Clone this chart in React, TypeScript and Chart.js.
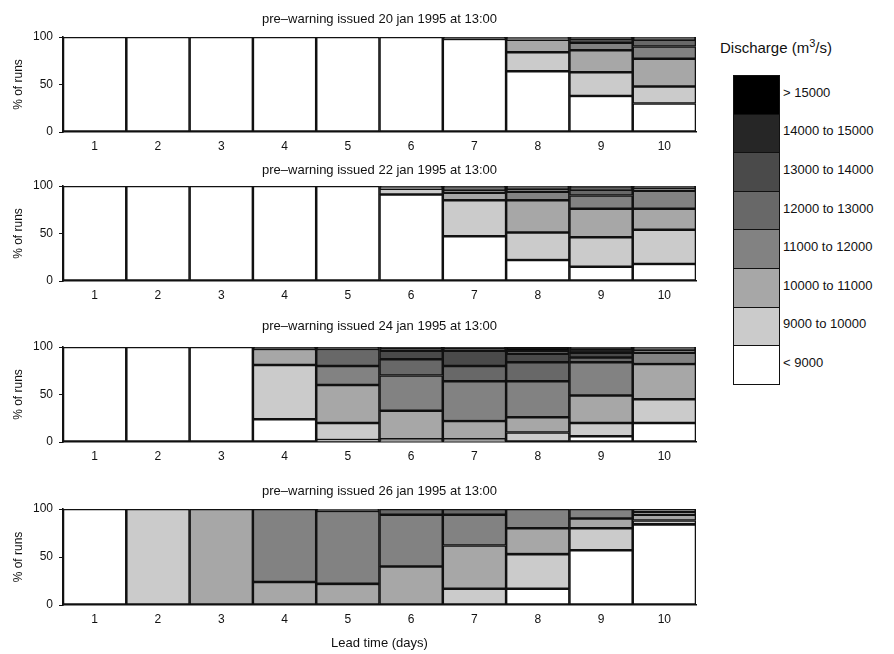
import React, { useEffect, useRef } from 'react';
import { Chart, registerables } from 'chart.js';

Chart.register(...registerables);

// ---------- data ----------
const leadTimes = ['1', '2', '3', '4', '5', '6', '7', '8', '9', '10'];

const classLabels = [
  '< 9000',
  '9000 to 10000',
  '10000 to 11000',
  '11000 to 12000',
  '12000 to 13000',
  '13000 to 14000',
  '14000 to 15000',
  '> 15000',
];

const classColors = ['#ffffff', '#cbcbcb', '#a7a7a7', '#828282', '#686868', '#4a4a4a', '#262626', '#000000'];

const yTickValues = [0, 50, 100];

const panelTitles = [
  'pre–warning issued 20 jan 1995 at 13:00',
  'pre–warning issued 22 jan 1995 at 13:00',
  'pre–warning issued 24 jan 1995 at 13:00',
  'pre–warning issued 26 jan 1995 at 13:00',
];

// rows: discharge classes (bottom -> top), columns: lead time 1..10 (% of runs)
const jan20 = [
  [100, 100, 100, 100, 100, 100, 98, 64, 38, 30],
  [0, 0, 0, 0, 0, 0, 0, 20, 25, 18],
  [0, 0, 0, 0, 0, 0, 0, 13, 23, 29],
  [0, 0, 0, 0, 0, 0, 0, 1, 8, 13],
  [0, 0, 0, 0, 0, 0, 1, 1, 4, 7],
  [0, 0, 0, 0, 0, 0, 0, 1, 1, 2],
  [0, 0, 0, 0, 0, 0, 0, 0, 1, 1],
  [0, 0, 0, 0, 0, 0, 1, 0, 0, 0],
];

const jan22 = [
  [100, 100, 100, 100, 100, 91, 47, 22, 15, 18],
  [0, 0, 0, 0, 0, 6, 38, 29, 31, 36],
  [0, 0, 0, 0, 0, 1, 8, 34, 30, 22],
  [0, 0, 0, 0, 0, 0, 3, 9, 14, 19],
  [0, 0, 0, 0, 0, 1, 2, 3, 6, 3],
  [0, 0, 0, 0, 0, 0, 1, 2, 2, 1],
  [0, 0, 0, 0, 0, 0, 0, 1, 1, 1],
  [0, 0, 0, 0, 0, 1, 1, 0, 1, 0],
];

const jan24 = [
  [100, 100, 100, 24, 2, 1, 1, 0, 6, 20],
  [0, 0, 0, 57, 18, 2, 2, 10, 14, 25],
  [0, 0, 0, 17, 40, 30, 19, 16, 29, 37],
  [0, 0, 0, 0, 20, 37, 42, 38, 35, 12],
  [0, 0, 0, 0, 18, 17, 16, 20, 5, 3],
  [0, 0, 0, 1, 1, 9, 16, 9, 5, 2],
  [0, 0, 0, 0, 0, 3, 3, 3, 4, 1],
  [0, 0, 0, 1, 1, 1, 1, 4, 2, 0],
];

const jan26 = [
  [100, 0, 0, 0, 0, 0, 0, 17, 57, 84],
  [0, 100, 0, 0, 0, 0, 17, 36, 23, 4],
  [0, 0, 100, 24, 22, 40, 45, 27, 10, 6],
  [0, 0, 0, 76, 76, 54, 32, 20, 10, 3],
  [0, 0, 0, 0, 0, 6, 6, 0, 0, 3],
  [0, 0, 0, 0, 1, 0, 0, 0, 0, 0],
  [0, 0, 0, 0, 1, 0, 0, 0, 0, 0],
  [0, 0, 0, 0, 0, 0, 0, 0, 0, 0],
];

const panelData = [jan20, jan22, jan24, jan26];

// ---------- layout ----------
const FONT = "'Liberation Sans', Arial, Helvetica, sans-serif";
const INK = '#111111';
const CANVAS_W = 700;
const PLOT_LEFT = 63;
const PLOT_RIGHT = 696;
const TOP_SPACE = 30;

const panelLayout = [
  { plotTop: 37, plotH: 95, titleY: 19, xH: 26, xTitle: false },
  { plotTop: 186, plotH: 95, titleY: 170, xH: 26, xTitle: false },
  { plotTop: 347, plotH: 95, titleY: 326, xH: 26, xTitle: false },
  { plotTop: 509, plotH: 96, titleY: 491, xH: 48, xTitle: true },
];

const TITLE_SIZE = 13;

function Panel({ idx }: { idx: number }) {
  const ref = useRef<HTMLCanvasElement | null>(null);
  const L = panelLayout[idx];
  const canvasTop = L.plotTop - TOP_SPACE;
  const canvasH = TOP_SPACE + L.plotH + L.xH;

  useEffect(() => {
    if (!ref.current) return;
    const rows = panelData[idx];
    const lh = TITLE_SIZE * 1.2;
    const c = L.titleY - canvasTop;
    const pt = c - lh / 2;
    const pb = TOP_SPACE - lh - pt;

    const chart = new Chart(ref.current, {
      type: 'bar',
      data: {
        labels: leadTimes,
        datasets: classLabels.map((label, i) => ({
          label,
          data: rows[i].map((v) => (v === 0 ? null : v)),
          backgroundColor: classColors[i],
          borderColor: INK,
          borderWidth: 1.6,
          borderSkipped: false,
          barPercentage: 1,
          categoryPercentage: 1,
        })),
      },
      options: {
        responsive: false,
        animation: false,
        devicePixelRatio: 1,
        layout: { padding: { left: 0, right: CANVAS_W - PLOT_RIGHT, top: 0, bottom: 0 } },
        plugins: {
          legend: { display: false },
          tooltip: { enabled: false },
          title: {
            display: true,
            text: panelTitles[idx],
            fullSize: false,
            color: INK,
            font: { family: FONT, size: TITLE_SIZE, weight: 'normal' },
            padding: { top: pt, bottom: pb },
          },
        },
        scales: {
          x: {
            stacked: true,
            grid: { display: false, drawTicks: false },
            border: { display: true, color: INK, width: 1.6 },
            ticks: { color: INK, font: { family: FONT, size: 12 }, padding: 7, maxRotation: 0 },
            title: {
              display: L.xTitle,
              text: 'Lead time (days)',
              color: INK,
              font: { family: FONT, size: 13 },
              padding: { top: 0, bottom: 2 },
            },
            afterFit: (s: any) => {
              s.height = L.xH;
            },
          },
          y: {
            stacked: true,
            min: 0,
            max: 100,
            afterBuildTicks: (s: any) => {
              s.ticks = yTickValues.map((v) => ({ value: v }));
            },
            grid: { display: true, drawOnChartArea: false, drawTicks: true, tickLength: 4, color: INK, lineWidth: 1 },
            border: { display: true, color: INK, width: 1.6 },
            ticks: { color: INK, font: { family: FONT, size: 12 }, padding: 6 },
            title: {
              display: true,
              text: '% of runs',
              color: INK,
              font: { family: FONT, size: 12 },
              padding: { top: 11, bottom: 0 },
            },
            afterFit: (s: any) => {
              s.width = PLOT_LEFT;
            },
          },
        },
      },
    });
    return () => chart.destroy();
  }, [idx]);

  return (
    <div style={{ position: 'absolute', left: 0, top: canvasTop, width: CANVAS_W, height: canvasH }}>
      <canvas ref={ref} width={CANVAS_W} height={canvasH} style={{ width: CANVAS_W, height: canvasH, display: 'block' }} />
    </div>
  );
}

function Legend() {
  const boxTop = 75;
  const boxH = 38.6;
  const order = classLabels.map((_, i) => classLabels.length - 1 - i);
  return (
    <div style={{ position: 'absolute', left: 0, top: 0, fontFamily: FONT, color: INK }}>
      <div style={{ position: 'absolute', left: 720, top: 38, fontSize: 15, whiteSpace: 'nowrap', lineHeight: '20px' }}>
        Discharge (m<sup style={{ fontSize: 11, verticalAlign: 'super', lineHeight: 0 }}>3</sup>/s)
      </div>
      {order.map((ci, k) => (
        <React.Fragment key={ci}>
          <div
            style={{
              position: 'absolute',
              left: 733,
              top: boxTop + k * boxH,
              width: 47,
              height: boxH + 1.6,
              boxSizing: 'border-box',
              border: `1.6px solid ${INK}`,
              background: classColors[ci],
            }}
          />
          <div
            style={{
              position: 'absolute',
              left: 783,
              top: boxTop + k * boxH - 2,
              height: boxH,
              display: 'flex',
              alignItems: 'center',
              fontSize: 13,
              whiteSpace: 'nowrap',
            }}
          >
            {classLabels[ci]}
          </div>
        </React.Fragment>
      ))}
    </div>
  );
}

export default function App() {
  return (
    <div style={{ position: 'absolute', left: 0, top: 0, width: 894, height: 654, background: '#ffffff' }}>
      {panelLayout.map((_, i) => (
        <Panel key={i} idx={i} />
      ))}
      <Legend />
    </div>
  );
}
